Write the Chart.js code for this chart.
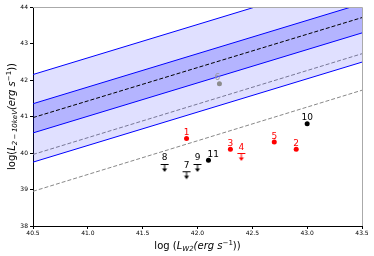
<!DOCTYPE html>
<html>
<head>
<meta charset="utf-8">
<script src="https://cdn.jsdelivr.net/npm/chart.js@4.4.1/dist/chart.umd.min.js"></script>
<style>
html,body{margin:0;padding:0;background:#fff;}
#wrap{width:374px;height:256px;position:relative;}
</style>
</head>
<body>
<div id="wrap"><canvas id="c" width="374" height="256"></canvas></div>
<script>
// ---- data ----
const xTickValues = [40.5, 41.0, 41.5, 42.0, 42.5, 43.0, 43.5];
const yTickValues = [38, 39, 40, 41, 42, 43, 44];
const lineX = [40.5, 43.5];
const bestFit = [40.97, 43.71];
const innerUpper = [41.35, 44.09];
const innerLower = [40.55, 43.29];
const outerUpper = [42.15, 44.89];
const outerLower = [39.75, 42.49];
const greyUpper = [39.96, 42.72];
const greyLower = [38.95, 41.72];

const redNames = ['1', '2', '3', '5'];
const redX = [41.9, 42.9, 42.3, 42.7];
const redY = [40.4, 40.1, 40.1, 40.3];

const redLimNames = ['4'];
const redLimX = [42.4];
const redLimY = [40.0];

const blackNames = ['10', '11'];
const blackX = [43.0, 42.1];
const blackY = [40.8, 39.8];

const blackLimNames = ['7', '8', '9'];
const blackLimX = [41.9, 41.7, 42.0];
const blackLimY = [39.5, 39.7, 39.7];

const greyNames = ['6'];
const greyX = [42.2];
const greyY = [41.9];

// ---- helpers ----
const pts = (xs, ys) => xs.map((x, i) => ({x: x, y: ys[i]}));
const FONT = '"DejaVu Sans", sans-serif';

function makeUpperLimit(color) {
  const c = document.createElement('canvas');
  c.width = 10; c.height = 22;
  const g = c.getContext('2d');
  g.strokeStyle = color; g.fillStyle = color; g.lineWidth = 1;
  g.beginPath(); g.moveTo(1, 11.5); g.lineTo(9, 11.5); g.stroke();
  g.beginPath(); g.moveTo(5, 11.5); g.lineTo(5, 17); g.stroke();
  g.beginPath(); g.moveTo(2.5, 15.5); g.lineTo(7.5, 15.5); g.lineTo(5, 19); g.closePath(); g.fill();
  return c;
}

function lineDS(data, color, dash, extra) {
  return Object.assign({
    type: 'line', data: pts(lineX, data), borderColor: color, borderWidth: 1,
    borderDash: dash || [], pointRadius: 0, fill: false, tension: 0
  }, extra || {});
}

const labelPlugin = {
  id: 'ptLabels',
  afterDatasetsDraw(chart) {
    const ctx = chart.ctx;
    ctx.save();
    ctx.font = '9px ' + FONT;
    ctx.textBaseline = 'alphabetic';
    chart.data.datasets.forEach((ds, di) => {
      if (!ds.ptNames) return;
      const meta = chart.getDatasetMeta(di);
      meta.data.forEach((el, i) => {
        const name = ds.ptNames[i];
        ctx.fillStyle = ds.labelColor;
        if (ds.leftLabels && ds.leftLabels.indexOf(name) >= 0) {
          ctx.textAlign = 'left';
          ctx.fillText(name, el.x - 1, el.y - 3.5);
        } else {
          ctx.textAlign = 'center';
          ctx.fillText(name, el.x - (ds.labelShift || 0), el.y - 3.5);
        }
      });
    });
    ctx.restore();
  }
};

function drawRich(ctx, segs, x, y) {
  let w = 0;
  segs.forEach(s => { ctx.font = (s.it ? 'italic ' : '') + s.sz + 'px ' + FONT; s.w = ctx.measureText(s.t).width; w += s.w; });
  let cx = x - w / 2;
  segs.forEach(s => {
    ctx.font = (s.it ? 'italic ' : '') + s.sz + 'px ' + FONT;
    ctx.fillText(s.t, cx, y + (s.dy || 0));
    cx += s.w;
  });
}

const framePlugin = {
  id: 'frame',
  afterDraw(chart) {
    const a = chart.chartArea, ctx = chart.ctx;
    ctx.save();
    ctx.lineWidth = 1;
    ctx.strokeStyle = '#aaaaaa';
    ctx.beginPath();
    ctx.moveTo(a.left, a.top + 0.5); ctx.lineTo(a.right + 0.5, a.top + 0.5);
    ctx.lineTo(a.right + 0.5, a.bottom);
    ctx.stroke();
    ctx.fillStyle = '#000';
    ctx.textAlign = 'left';
    ctx.textBaseline = 'alphabetic';
    drawRich(ctx, [
      {t: 'log (', sz: 10},
      {t: 'L', sz: 10, it: true},
      {t: 'W2', sz: 7, it: true, dy: 2},
      {t: '(erg s', sz: 10, it: true},
      {t: '\u22121', sz: 7, dy: -4},
      {t: '))', sz: 10}
    ], (a.left + a.right) / 2, 249);
    ctx.translate(15, (a.top + a.bottom) / 2);
    ctx.rotate(-Math.PI / 2);
    drawRich(ctx, [
      {t: 'log(', sz: 10},
      {t: 'L', sz: 10, it: true},
      {t: '2\u2009\u2212\u200910keV', sz: 7, it: true, dy: 2},
      {t: '(erg s', sz: 10, it: true},
      {t: '\u22121', sz: 7, dy: -4},
      {t: '))', sz: 10}
    ], 0, 0);
    ctx.restore();
  }
};

const redUL = makeUpperLimit('#ff0000');
const blackUL = makeUpperLimit('#000000');

const datasets = [
  lineDS(bestFit, '#000000', [4, 2], {order: 1}),
  lineDS(innerUpper, '#0000ff', [], {order: 2, fill: {target: 3}, backgroundColor: 'rgba(0,0,255,0.2)'}),
  lineDS(outerUpper, '#0000ff', [], {order: 4, fill: {target: 4}, backgroundColor: 'rgba(0,0,255,0.12)'}),
  lineDS(innerLower, '#0000ff', [], {order: 3}),
  lineDS(outerLower, '#0000ff', [], {order: 5}),
  lineDS(greyUpper, '#888888', [4, 2], {order: 6}),
  lineDS(greyLower, '#888888', [4, 2], {order: 7}),
  {type: 'scatter', data: pts(redX, redY), pointRadius: 2.5, pointBackgroundColor: '#ff0000', pointBorderWidth: 0, ptNames: redNames, labelColor: '#ff0000', order: 0},
  {type: 'scatter', data: pts(redLimX, redLimY), pointStyle: redUL, pointRadius: 5, ptNames: redLimNames, labelColor: '#ff0000', order: 0},
  {type: 'scatter', data: pts(blackX, blackY), pointRadius: 2.5, pointBackgroundColor: '#000000', pointBorderWidth: 0, ptNames: blackNames, labelColor: '#000000', leftLabels: ['11'], order: 0},
  {type: 'scatter', data: pts(blackLimX, blackLimY), pointStyle: blackUL, pointRadius: 5, ptNames: blackLimNames, labelColor: '#000000', order: 0},
  {type: 'scatter', data: pts(greyX, greyY), pointRadius: 2.5, pointBackgroundColor: '#8c8c8c', pointBorderWidth: 0, ptNames: greyNames, labelColor: '#9a9a9a', labelShift: 2, order: 0}
];

new Chart(document.getElementById('c'), {
  type: 'scatter',
  data: {datasets: datasets},
  options: {
    responsive: false,
    animation: false,
    events: [],
    layout: {padding: {left: 0, right: 12, top: 7, bottom: 0}},
    plugins: {legend: {display: false}, tooltip: {enabled: false}},
    scales: {
      x: {
        type: 'linear', min: 40.5, max: 43.5,
        afterBuildTicks: s => { s.ticks = xTickValues.map(v => ({value: v})); },
        afterFit: s => { s.height = 30; },
        grid: {drawOnChartArea: false, drawTicks: true, tickLength: 3, color: '#000'},
        border: {display: true, color: '#000', width: 1},
        ticks: {font: {family: 'DejaVu Sans', size: 6}, color: '#000', padding: 1, maxRotation: 0, autoSkip: false,
                callback: v => Number(v).toFixed(1)}
      },
      y: {
        type: 'linear', min: 38, max: 44,
        afterBuildTicks: s => { s.ticks = yTickValues.map(v => ({value: v})); },
        afterFit: s => { s.width = 33; },
        grid: {drawOnChartArea: false, drawTicks: true, tickLength: 3, color: '#000'},
        border: {display: true, color: '#000', width: 1},
        ticks: {font: {family: 'DejaVu Sans', size: 6}, color: '#000', padding: 2, autoSkip: false,
                callback: v => String(v)}
      }
    }
  },
  plugins: [labelPlugin, framePlugin]
});
</script>
</body>
</html>
